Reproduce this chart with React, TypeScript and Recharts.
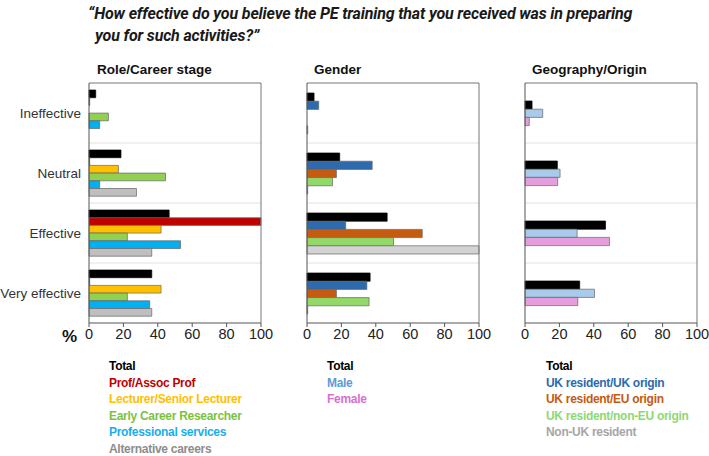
import { BarChart, Bar, XAxis, YAxis, ReferenceLine } from 'recharts';

const CATEGORIES = ['Ineffective', 'Neutral', 'Effective', 'Very effective'];
const X_TICKS = [0, 20, 40, 60, 80, 100];

// Role/Career stage
const roleTotal = [3.9, 18.6, 46.6, 36.5];
const roleProf = [0.4, 0.4, 100, 0.4];
const roleLecturer = [0, 17.1, 41.9, 41.9];
const roleEcr = [11.3, 44.5, 22.3, 22.3];
const roleProfServices = [6.2, 6.2, 53.2, 35.3];
const roleAltCareers = [0, 27.6, 36.5, 36.5];

// Gender panel (bars as drawn)
const genTotal = [4.1, 19, 46.6, 36.7];
const genUkUk = [6.8, 37.9, 22.5, 34.8];
const genUkEu = [0, 17.1, 67, 17.1];
const genUkNonEu = [0, 14.8, 50.3, 36.1];
const genNonUk = [0.4, 0.4, 100, 0.4];

// Geography/Origin panel (bars as drawn)
const geoTotal = [4.1, 18.8, 46.8, 31.8];
const geoMale = [10.3, 20.4, 30.3, 40.4];
const geoFemale = [2.5, 19, 49.1, 30.7];

const roleLegend = ['Total', 'Prof/Assoc Prof', 'Lecturer/Senior Lecturer', 'Early Career Researcher', 'Professional services', 'Alternative careers'];
const genderLegend = ['Total', 'Male', 'Female'];
const geoLegend = ['Total', 'UK resident/UK origin', 'UK resident/EU origin', 'UK resident/non-EU origin', 'Non-UK resident'];

const font = '"Liberation Sans", Arial, sans-serif';

type Series = { key: string; values: number[]; color: string };

const roleSeries: Series[] = [
  { key: 'total', values: roleTotal, color: '#000000' },
  { key: 'prof', values: roleProf, color: '#C00000' },
  { key: 'lect', values: roleLecturer, color: '#FFC000' },
  { key: 'ecr', values: roleEcr, color: '#92D050' },
  { key: 'ps', values: roleProfServices, color: '#00B0F0' },
  { key: 'alt', values: roleAltCareers, color: '#BFBFBF' },
];
const genSeries: Series[] = [
  { key: 'total', values: genTotal, color: '#000000' },
  { key: 'ukuk', values: genUkUk, color: '#2E6AAE' },
  { key: 'ukeu', values: genUkEu, color: '#C55A11' },
  { key: 'uknoneu', values: genUkNonEu, color: '#92D96A' },
  { key: 'nonuk', values: genNonUk, color: '#D3D3D3' },
];
const geoSeries: Series[] = [
  { key: 'total', values: geoTotal, color: '#000000' },
  { key: 'male', values: geoMale, color: '#A9CBEB' },
  { key: 'female', values: geoFemale, color: '#E49EDD' },
];

const buildRows = (series: Series[]) =>
  CATEGORIES.map((cat, i) => {
    const row: Record<string, any> = { cat };
    series.forEach(s => { row[s.key] = s.values[i]; });
    return row;
  });

const PLOT_TOP = 83;
const PLOT_H = 240;
const X_AXIS_H = 30;
const CHART_H = PLOT_TOP + PLOT_H + X_AXIS_H + 5;
const PLOT_W = 172;

// single-line category label (recharts would wrap "Very effective")
const CatTick = (props: any) => {
  const { x, y, payload } = props;
  return (
    <text x={x} y={y} dy={5} textAnchor="end" fill="#333" fontSize={13.5} fontFamily={font}>
      {payload.value}
    </text>
  );
};

function Panel({ left, yWidth, labels, series, barSize }: { left: number; yWidth: number; labels: boolean; series: Series[]; barSize: number }) {
  const data = buildRows(series);
  return (
    <div style={{ position: 'absolute', left, top: 0 }}>
      <BarChart
        width={yWidth + PLOT_W + 20}
        height={CHART_H}
        data={data}
        layout="vertical"
        barGap={0}
        margin={{ top: PLOT_TOP, right: 20, bottom: 5, left: 0 }}
      >
        <XAxis
          type="number"
          domain={[0, 100]}
          ticks={X_TICKS}
          interval={0}
          tickSize={4}
          height={X_AXIS_H}
          tick={{ fill: '#222', fontSize: 14.5, fontFamily: font }}
          axisLine={{ stroke: '#555' }}
          tickLine={{ stroke: '#555' }}
        />
        <YAxis
          type="category"
          dataKey="cat"
          width={yWidth}
          tick={labels ? <CatTick /> : false}
          tickLine={false}
          axisLine={{ stroke: '#555' }}
        />
        {CATEGORIES.slice(1).map(c => (
          <ReferenceLine key={c} y={c} position="start" stroke="#e2e2e2" strokeWidth={1} />
        ))}
        <ReferenceLine y={CATEGORIES[0]} position="start" stroke="#777" />
        <ReferenceLine x={100} stroke="#777" />
        {series.map(s => (
          <Bar
            key={s.key}
            dataKey={s.key}
            fill={s.color}
            stroke={s.color === '#000000' ? '#000' : '#666'}
            strokeWidth={0.7}
            barSize={barSize}
            isAnimationActive={false}
          />
        ))}
      </BarChart>
    </div>
  );
}

function Legend({ left, items, colors }: { left: number; items: string[]; colors: string[] }) {
  return (
    <div style={{ position: 'absolute', left, top: 358 }}>
      {items.map((t, i) => (
        <div key={t} style={{ fontFamily: font, fontWeight: 700, fontSize: 12, lineHeight: '16.6px', color: colors[i], letterSpacing: -0.3, whiteSpace: 'nowrap' }}>
          {t}
        </div>
      ))}
    </div>
  );
}

const headStyle = { position: 'absolute' as const, top: 62, fontFamily: font, fontWeight: 700, fontSize: 13.5, color: '#111', whiteSpace: 'nowrap' as const };

export default function App() {
  return (
    <div style={{ position: 'absolute', left: 0, top: 0, width: 709, height: 456, background: '#fff', overflow: 'hidden' }}>
      <div style={{ position: 'absolute', left: 88, top: 3, fontFamily: 'Roboto, sans-serif', fontStyle: 'italic', fontWeight: 700, fontSize: 16, lineHeight: '22px', color: '#1a1a1a', whiteSpace: 'nowrap', letterSpacing: -0.15 }}>
        <div>“How effective do you believe the PE training that you received was in preparing</div>
        <div style={{ paddingLeft: 7 }}>you for such activities?”</div>
      </div>

      <div style={{ ...headStyle, left: 97 }}>Role/Career stage</div>
      <div style={{ ...headStyle, left: 314 }}>Gender</div>
      <div style={{ ...headStyle, left: 532 }}>Geography/Origin</div>

      <Panel left={-10} yWidth={99} labels series={roleSeries} barSize={7.7} />
      <Panel left={287} yWidth={20} labels={false} series={genSeries} barSize={8.2} />
      <Panel left={505} yWidth={20} labels={false} series={geoSeries} barSize={8.2} />

      <div style={{ position: 'absolute', left: 62, top: 327, fontFamily: font, fontWeight: 700, fontSize: 17, color: '#111' }}>%</div>

      <Legend left={109} items={roleLegend} colors={['#000', '#C00000', '#FFC000', '#7CC242', '#1AADEB', '#8C8C8C']} />
      <Legend left={327} items={genderLegend} colors={['#000', '#5B9BD5', '#D96FD0']} />
      <Legend left={546} items={geoLegend} colors={['#000', '#2E6AAE', '#C55A11', '#8ED873', '#A6A6A6']} />
    </div>
  );
}
